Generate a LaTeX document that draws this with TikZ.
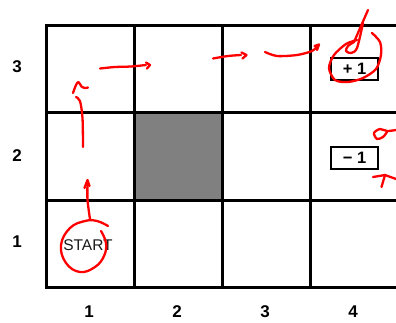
\documentclass[tikz,border=0pt]{standalone}
\usepackage{fontspec}
\setmainfont{Liberation Sans}
\definecolor{cellgray}{HTML}{808080}
\definecolor{penred}{HTML}{FF0000}
\begin{document}
\begin{tikzpicture}[x=1pt,y=-1pt,
  gridline/.style={line width=3pt,black},
  lab/.style={font=\fontsize{17}{17}\selectfont\bfseries,inner sep=0pt},
  starttext/.style={font=\fontsize{15.5}{15.5}\selectfont,inner sep=0pt,text=black!90},
  valbox/.style={draw,line width=2.5pt,minimum width=47pt,minimum height=22pt,inner sep=0pt,
    font=\fontsize{16.5}{16.5}\selectfont\bfseries},
  pen/.style={penred,line width=2.3pt,line cap=round,line join=round}]
\useasboundingbox (0,0) rectangle (396,322);
\clip (0,0) rectangle (396,322);
\fill[white] (0,0) rectangle (396,322);
% shaded wall cell
\fill[cellgray] (134,112) rectangle (222,200);
% grid
\draw[gridline] (46,25) rectangle (398,287);
\draw[gridline] (134,25) -- (134,287);
\draw[gridline] (222,25) -- (222,287);
\draw[gridline] (310,25) -- (310,287);
\draw[gridline] (46,112) -- (398,112);
\draw[gridline] (46,200) -- (398,200);
% axis labels
\node[lab] (r3) at (17,67) {3};
\node[lab] (r2) at (17,156) {2};
\node[lab] (r1) at (17,242) {1};
\node[lab] (c1) at (89,312) {1};
\node[lab] (c2) at (177,312) {2};
\node[lab] (c3) at (265,312) {3};
\node[lab] (c4) at (353,312) {4};
% contents
\node[starttext] (start) at (88,245) {START};
\node[valbox] (plus) at (354.5,69) {+ 1};
\node[valbox] (minus) at (354.5,158) {\textminus\ 1};
% red pen annotations
\draw[pen] plot[smooth,tension=0.7] coordinates {(108,226) (97,221) (85,221) (70,228) (61,245) (66,263) (80,272) (95,267) (104,256) (106,243) (101,231)};
\draw[pen] plot[smooth] coordinates {(90,219) (87.5,200) (87.5,183)};
\draw[pen] (84.5,188) -- (87.5,180) -- (89.5,186);
\draw[pen] plot[smooth] coordinates {(83,147) (82.5,118) (80,101) (76,97)};
\draw[pen] plot[smooth] coordinates {(73,93) (76,85) (78.5,82) (81.5,86.5) (85,88) (88,87.5)};
\draw[pen] plot[smooth] coordinates {(100,68.5) (115,67) (131,66.5) (146,65)};
\draw[pen] (146,62.5) -- (150,65) -- (147,68.5);
\draw[pen] plot[smooth] coordinates {(213,58.5) (228,56) (241,55)};
\draw[pen] (241.5,52.5) -- (246.5,55) -- (242.5,58.5);
\draw[pen] plot[smooth] coordinates {(265,52) (277,56) (297,55) (312,51) (318,45.5)};
\draw[pen] (314.5,46) -- (319,44.5) -- (317,50);
\draw[pen] plot[smooth] coordinates {(372,33) (380,42) (381,55) (376,69) (363,78) (348,82) (335,80) (329,68) (334,55) (346,44) (357,40)};
\draw[pen] (368,10) -- (354,42);
\draw[pen] plot[smooth] coordinates {(354,42) (348,46) (346,51) (351,53) (357,48) (363,23)};
\draw[pen] plot[smooth] coordinates {(396,130) (387,131) (380,129) (374,133) (377,139) (383,137) (387,132)};
\draw[pen] (373,177) -- (385,175) -- (396,179);
\draw[pen] (385,175) -- (381.5,187);
\end{tikzpicture}
\end{document}
